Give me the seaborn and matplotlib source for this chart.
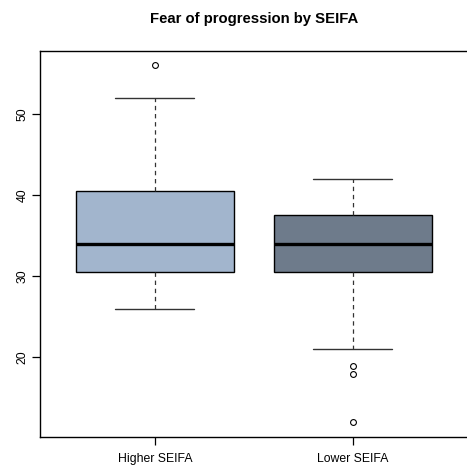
import matplotlib
matplotlib.use("Agg")
import matplotlib.pyplot as plt
import seaborn as sns
import pandas as pd

# Fear of progression scores by socio-economic area group
groups = ["Higher SEIFA", "Lower SEIFA"]
higher_scores = [26, 28, 29, 30.5, 32, 33, 34, 36, 38, 40.5, 44, 52, 56]
lower_scores = [12, 18, 19, 21, 30.5, 31, 32, 33, 34, 35, 36, 37, 37.5, 38, 40, 41, 42]
box_colors = ["#A2B5CD", "#6E7B8B"]
yticks = [20, 30, 40, 50]

df = pd.DataFrame({
    "group": [groups[0]] * len(higher_scores) + [groups[1]] * len(lower_scores),
    "score": higher_scores + lower_scores,
})

sns.set_style("white")
plt.rcParams["font.family"] = ["Liberation Sans", "DejaVu Sans"]
plt.rcParams["text.color"] = "black"

fig = plt.figure(figsize=(4.67, 4.67), dpi=100)
ax = fig.add_axes([40 / 467, 30.3 / 467, 427.5 / 467, 385.7 / 467])

sns.boxplot(
    data=df, x="group", y="score", hue="group", order=groups, hue_order=groups,
    palette=box_colors, legend=False, width=0.8, whis=1.5, saturation=1, ax=ax,
    linecolor="black", linewidth=1.0,
    boxprops=dict(edgecolor="black", linewidth=1.0),
    medianprops=dict(color="black", linewidth=2.4),
    whiskerprops=dict(color="#333333", linewidth=0.9, linestyle=(0, (3.5, 3))),
    capprops=dict(color="#333333", linewidth=1.0),
    flierprops=dict(marker="o", markersize=4.2, markerfacecolor="none",
                    markeredgecolor="black", markeredgewidth=0.8),
)

ax.set_xlim(-0.58, 1.58)
data_min = min(higher_scores + lower_scores)
data_max = max(higher_scores + lower_scores)
pad = 0.04 * (data_max - data_min)
ax.set_ylim(data_min - pad, data_max + pad)

ax.set_yticks(yticks)
ax.set_yticklabels([str(v) for v in yticks], rotation=90, va="center", fontsize=8.8)
ax.set_xticks([0, 1])
ax.set_xticklabels(groups, fontsize=8.8)
ax.set_xlabel("")
ax.set_ylabel("")
ax.tick_params(axis="both", which="both", direction="out", length=6, width=0.9,
               color="black", labelcolor="black", left=True, bottom=True)
ax.tick_params(axis="x", pad=6)
ax.tick_params(axis="y", pad=2)

for s in ax.spines.values():
    s.set_visible(True)
    s.set_color("black")
    s.set_linewidth(1.0)

ax.set_title("Fear of progression by SEIFA", fontsize=10.7, fontweight="bold",
             color="black", pad=20)

fig.savefig("out.png", dpi=100)
